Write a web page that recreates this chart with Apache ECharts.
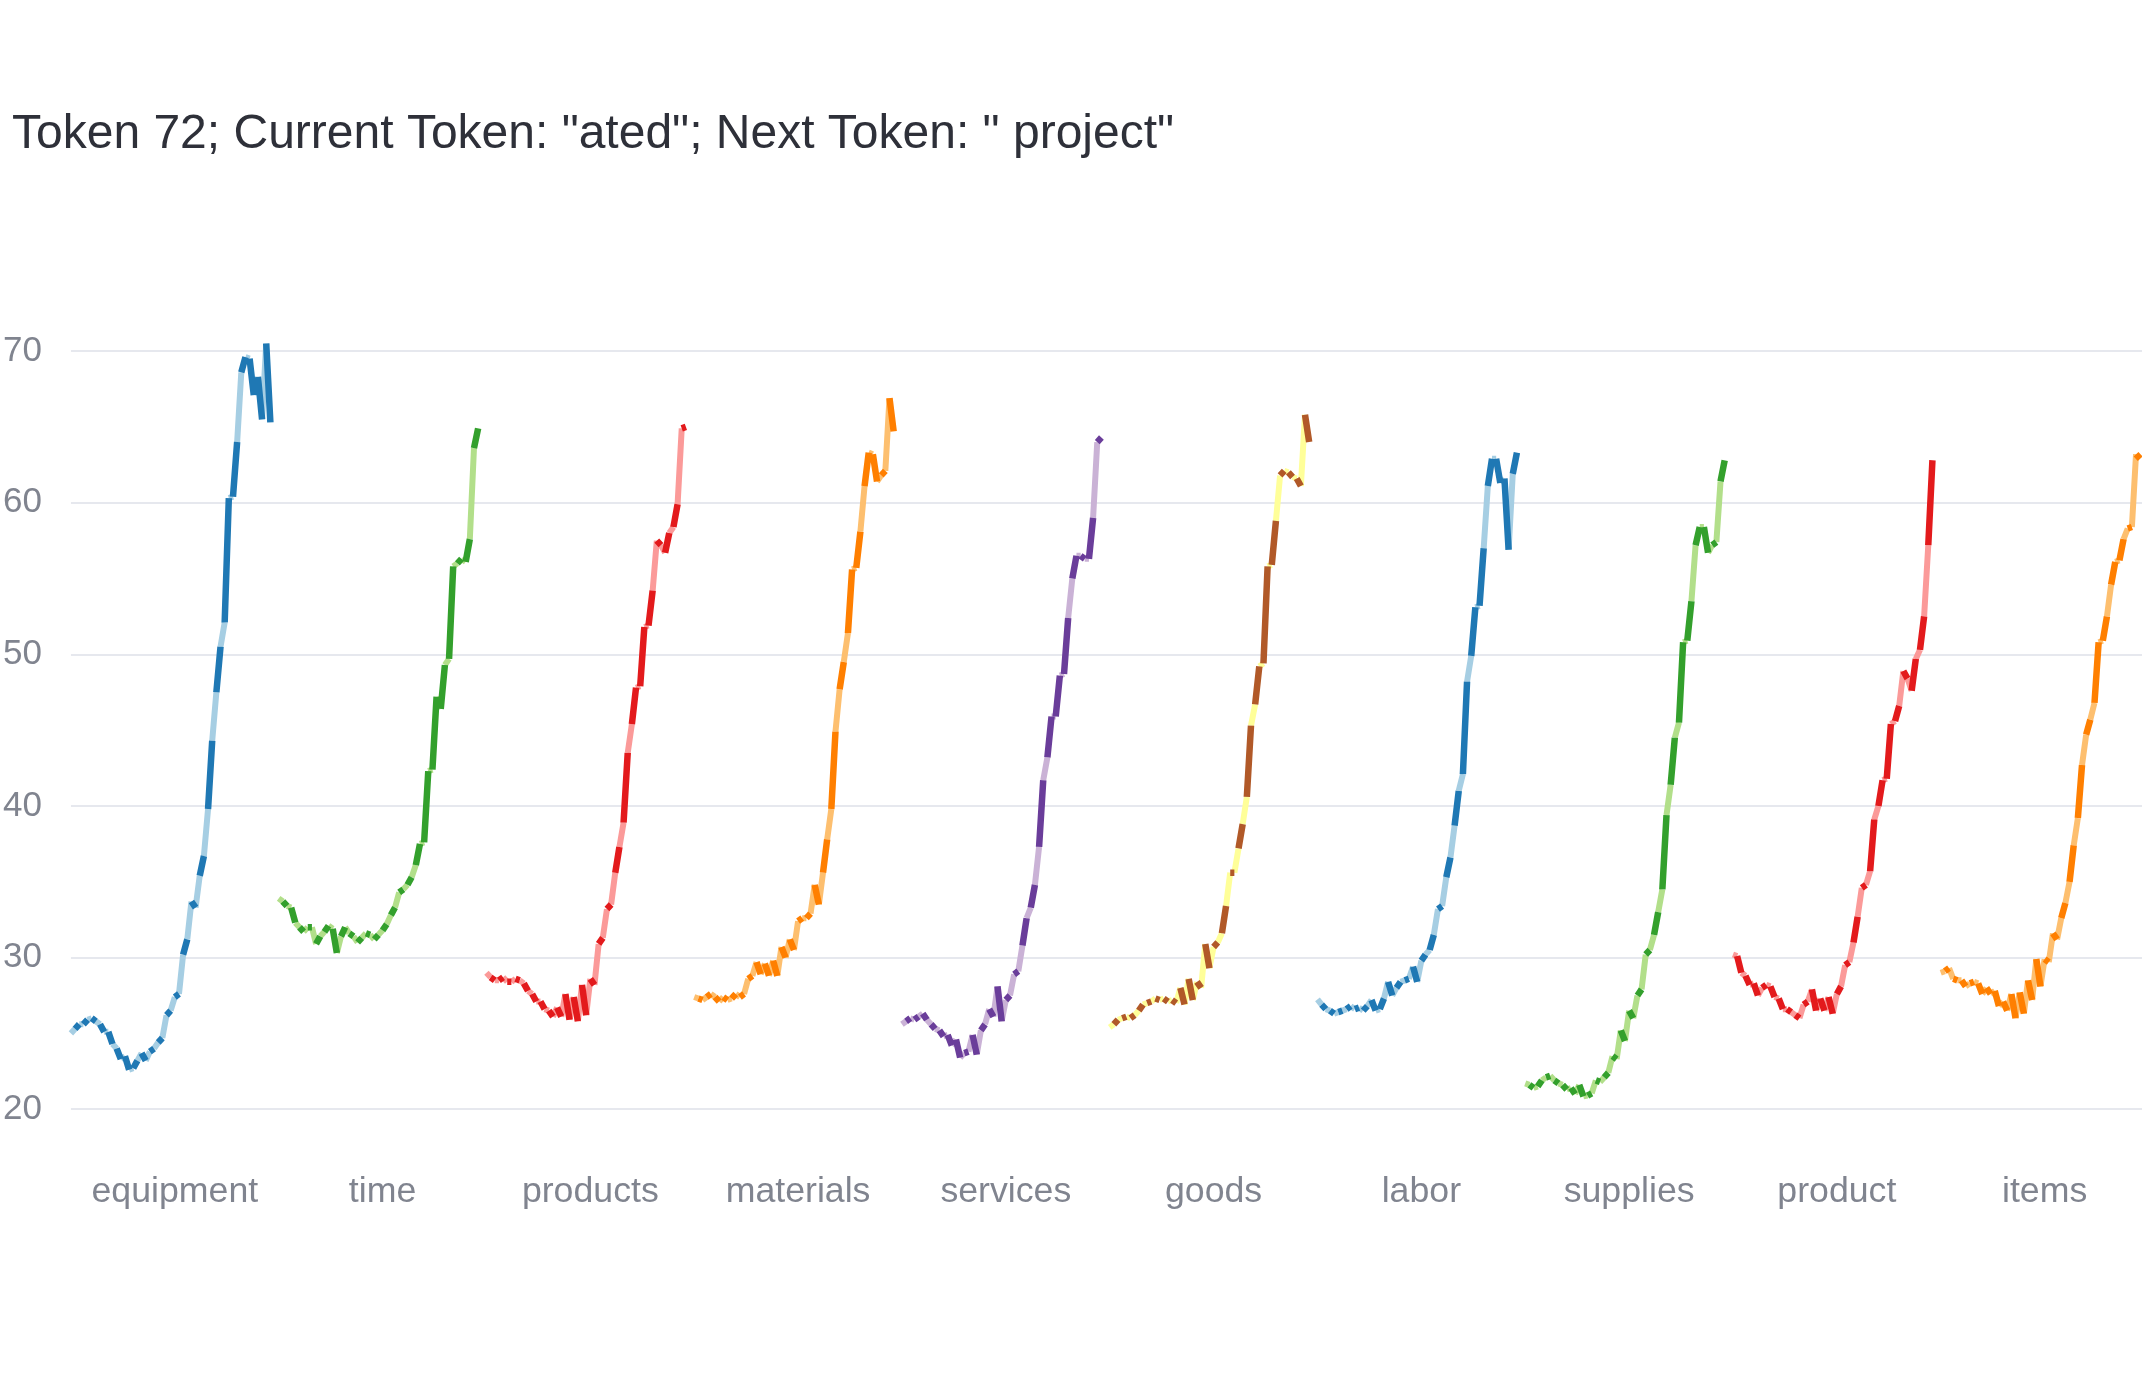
<!DOCTYPE html>
<html>
<head>
<meta charset="utf-8">
<script src="https://cdn.jsdelivr.net/npm/echarts@6/dist/echarts.min.js"></script>
<style>
html,body{margin:0;padding:0;background:#ffffff;overflow:hidden;}
#chart{width:2200px;height:1380px;}
</style>
</head>
<body>
<div id="chart"></div>
<script>
var titleText = 'Token 72; Current Token: "ated"; Next Token: " project"';
var categories = ['equipment', 'time', 'products', 'materials', 'services', 'goods', 'labor', 'supplies', 'product', 'items'];
var yTicks = [20, 30, 40, 50, 60, 70];

var equipment = [25.0,25.3,25.6,25.6,25.9,26.0,25.8,25.6,25.1,25.1,24.3,24.0,23.3,23.5,22.6,22.7,23.2,23.7,23.2,23.8,24.0,24.4,24.7,26.2,26.5,27.4,27.6,30.2,31.2,33.7,33.3,35.4,36.7,39.8,44.3,47.5,50.5,52.1,60.3,60.4,64.0,68.6,69.6,69.5,67.1,68.3,65.5,70.5,65.3];
var time = [33.9,33.7,33.4,33.3,32.3,32.0,31.7,32.0,32.0,30.9,31.4,31.7,32.1,31.9,30.3,31.4,32.0,31.6,31.4,31.0,31.3,31.6,31.5,31.2,31.5,31.8,32.2,32.8,33.3,34.3,34.5,34.8,35.3,36.1,37.5,37.6,42.3,42.4,47.2,46.4,49.3,49.7,55.8,56.0,56.3,56.1,57.6,63.6,64.9];
var products = [29.0,28.7,28.5,28.5,28.7,28.4,28.4,28.6,28.5,28.3,27.8,27.6,27.1,27.1,26.6,26.5,26.1,26.7,26.1,27.6,25.9,27.4,25.8,28.2,26.2,28.6,28.2,30.9,31.3,33.2,33.5,35.6,37.3,38.9,43.5,45.4,47.8,47.9,51.8,51.9,54.2,57.5,57.2,56.7,58.0,58.4,59.9,64.9,65.0];
var materials = [27.4,27.3,27.2,27.4,27.6,27.4,27.1,27.4,27.2,27.3,27.6,27.4,27.6,28.6,28.8,29.7,28.9,29.6,28.8,29.8,28.8,30.7,30.0,31.2,30.5,32.4,32.6,32.6,32.9,34.8,33.5,35.6,37.8,39.8,44.9,47.7,49.5,51.4,55.6,55.7,58.1,61.1,63.3,63.2,61.4,61.8,62.1,66.9,64.7];
var services = [25.6,25.8,26.0,25.9,26.1,26.3,25.9,25.6,25.3,25.2,24.8,24.9,24.2,24.6,23.4,23.7,23.8,24.9,23.6,25.2,25.6,26.6,26.1,28.1,25.8,27.2,27.5,28.9,29.1,30.8,32.6,33.3,34.8,37.3,41.7,43.2,45.9,45.9,48.6,48.7,52.4,55.0,56.5,56.5,56.3,56.3,59.0,64.0,64.3];
var goods = [25.4,25.6,25.9,26.0,26.1,26.0,26.2,26.5,26.9,27.0,27.1,27.3,27.2,27.3,27.1,27.2,27.0,28.0,26.9,28.6,27.2,28.4,28.0,30.9,29.3,30.7,31.0,31.6,33.4,35.6,35.6,37.2,38.8,40.6,45.3,46.7,49.2,49.4,55.8,55.9,58.8,61.8,62.1,62.0,61.7,61.6,61.1,65.8,64.0];
var labor = [27.25,26.9,26.6,26.5,26.3,26.4,26.5,26.6,26.8,26.6,26.7,26.5,26.8,27.2,26.5,26.6,27.3,28.4,27.5,28.0,28.4,28.5,28.6,29.4,28.4,29.8,30.2,30.5,31.5,33.2,33.4,35.3,36.6,38.7,41.0,42.1,48.2,49.9,53.1,53.2,57.0,61.1,62.9,62.9,61.3,61.6,56.9,61.9,63.3];
var supplies = [21.7,21.6,21.4,21.5,21.9,22.1,22.2,21.9,21.7,21.6,21.3,21.4,21.0,21.6,20.85,20.9,21.05,21.9,21.8,22.1,22.4,23.5,23.3,25.2,24.5,26.5,26.0,27.5,27.9,30.2,30.5,31.5,33.0,34.5,39.4,41.4,44.5,45.5,50.8,50.9,53.5,57.2,58.4,58.4,56.7,57.2,57.4,61.4,62.8];
var product = [30.2,30.1,29.0,28.8,28.2,28.3,27.5,28.0,28.2,28.1,27.4,27.3,26.6,26.6,26.4,26.2,26.0,26.9,27.1,27.9,26.5,27.3,26.5,27.4,26.3,27.6,28.1,29.5,29.7,31.0,32.7,34.6,34.8,35.7,39.1,40.0,41.7,41.8,45.4,45.6,46.6,48.9,48.4,47.6,49.7,50.3,52.5,57.2,62.8];
var items = [29.0,29.1,29.3,28.6,28.5,28.5,28.1,28.3,28.4,28.3,27.6,28.0,27.6,27.8,26.8,27.1,26.5,27.6,26.0,27.7,26.3,28.5,27.2,29.9,28.1,29.9,29.7,31.6,31.2,32.6,33.6,35.0,37.4,39.2,42.7,44.7,45.7,46.8,50.8,50.9,52.5,54.6,56.1,56.2,57.6,58.3,58.4,63.2,62.9];

var lightColors = ['#a6cee3', '#b2df8a', '#fb9a99', '#fdbf6f', '#cab2d6', '#ffff99', '#a6cee3', '#b2df8a', '#fb9a99', '#fdbf6f'];
var darkColors  = ['#1f78b4', '#33a02c', '#e31a1c', '#ff7f00', '#6a3d9a', '#b15928', '#1f78b4', '#33a02c', '#e31a1c', '#ff7f00'];

var seriesValues = [equipment, time, products, materials, services, goods, labor, supplies, product, items];

// segment k joins point k and k+1; even k = light colour, odd k = dark colour
function segmentData(vals, c, parity) {
  var out = [];
  for (var k = parity; k < vals.length - 1; k += 2) {
    var x0 = c - 0.5 + k / 50, x1 = c - 0.5 + (k + 1) / 50;
    out.push([x0, vals[k]]);
    out.push([x1, vals[k + 1]]);
    out.push([x1, '-']);
  }
  return out;
}

var series = [];
seriesValues.forEach(function (vals, c) {
  series.push({
    type: 'line', xAxisIndex: 1, yAxisIndex: 0,
    data: segmentData(vals, c, 0),
    showSymbol: false, symbol: 'none', connectNulls: false, clip: false,
    lineStyle: { color: lightColors[c], width: 6, cap: 'butt' },
    z: 2, silent: true
  });
  series.push({
    type: 'line', xAxisIndex: 1, yAxisIndex: 0,
    data: segmentData(vals, c, 1),
    showSymbol: false, symbol: 'none', connectNulls: false, clip: false,
    lineStyle: { color: darkColors[c], width: 6.5, cap: 'butt' },
    z: 3, silent: true
  });
});

var FONT = '"Liberation Sans", Arial, sans-serif';
var chart = echarts.init(document.getElementById('chart'), null, { renderer: 'canvas' });
chart.setOption({
  animation: false,
  backgroundColor: '#ffffff',
  title: {
    text: titleText,
    left: 12, top: 111, padding: 0,
    textStyle: { fontFamily: FONT, fontSize: 48, fontWeight: 'normal', color: '#2e3039' }
  },
  grid: { left: 62, top: 351.1, width: 2086.5, height: 758.1, containLabel: false },
  xAxis: [
    {
      type: 'category', data: categories, boundaryGap: true, gridIndex: 0,
      axisLine: { show: false }, axisTick: { show: false }, splitLine: { show: false },
      axisLabel: { interval: 0, fontFamily: FONT, fontSize: 35.7, color: '#80848f', margin: 65 }
    },
    {
      type: 'value', min: -0.5, max: 9.5, gridIndex: 0, show: false
    }
  ],
  yAxis: {
    type: 'value', min: yTicks[0], max: yTicks[yTicks.length - 1], interval: 10,
    axisLine: { show: false }, axisTick: { show: false },
    splitLine: { show: true, lineStyle: { color: '#e6e8ee', width: 2 } },
    axisLabel: { fontFamily: FONT, fontSize: 35, color: '#80848f', margin: 29 }
  },
  series: series
});
</script>
</body>
</html>
